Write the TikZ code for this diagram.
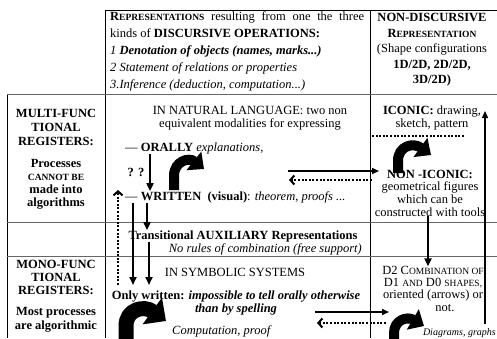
\documentclass[tikz,border=0pt]{standalone}
\usepackage{fontspec}
\setmainfont{Liberation Serif}
\usetikzlibrary{arrows.meta}
\newcommand{\smc}[1]{{\fontsize{9.5}{10}\selectfont #1}}
\begin{document}
\begin{tikzpicture}[x=1pt,y=-1pt,
  every node/.style={font=\fontsize{12.5}{13}\selectfont,inner sep=0pt},
  grid/.style={line width=0.7pt},
  hgrid/.style={line width=1pt,black!60},
  dn/.style={line width=2.2pt,-{Triangle[length=8pt,width=7pt]}},
  rt/.style={line width=1.6pt,-{Triangle[length=7pt,width=6pt]}},
  dotarr/.style={line width=2.2pt,dash pattern=on 2pt off 1.6pt,-{Straight Barb[length=4pt,width=9pt,line width=2pt]}},
  uturn/.style={line width=10pt,-{Triangle[length=13pt,width=23pt]}}]
\useasboundingbox (0,0) rectangle (497,338);
% table
\draw[grid] (105,10) -- (497,10);
\draw[grid] (105,10) -- (105,338);
\draw[grid] (370,10) -- (370,338);
\draw[grid] (7,94) -- (7,338);
\draw[hgrid] (7,94) -- (497,94);
\draw[hgrid] (7,222) -- (497,222);
\draw[hgrid] (7,256) -- (497,256);
% header row
\node[anchor=north west,align=left,font=\fontsize{12.5}{17.2}\selectfont] (repr) at (110,11)
 {\makebox[254pt][s]{\textbf{R\smc{EPRESENTATIONS}} resulting from one the three}\\
  kinds of \textbf{DISCURSIVE OPERATIONS:}\\
  \textit{1 \textbf{Denotation of objects (names, marks...)}}\\
  \textit{2 Statement of relations or properties}\\
  \textit{3.Inference (deduction, computation...)}};
\node[align=center,font=\fontsize{12.5}{15.5}\selectfont] (nondisc) at (432,50)
 {\textbf{NON-DISCURSIVE}\\ \textbf{R\smc{EPRESENTATION}}\\ (Shape configurations\\
  \textbf{1D/2D, 2D/2D,}\\ \textbf{3D/2D)}};
% left column
\node[align=center,font=\bfseries\fontsize{12.5}{14}\selectfont] (multi) at (56,127)
 {MULTI-FUNC\\TIONAL\\REGISTERS:};
\node[align=center,font=\bfseries\fontsize{12.5}{13}\selectfont] (proc) at (56,184)
 {Processes\\ \smc{CANNOT BE}\\ made into\\ algorithms};
\node[align=center,font=\bfseries\fontsize{12.5}{13}\selectfont] (mono) at (56,277)
 {MONO-FUNC\\TIONAL\\REGISTERS:};
\node[align=center,font=\bfseries\fontsize{12.5}{13.5}\selectfont] (mostp) at (56,320)
 {Most processes\\are algorithmic};
% natural language
\node[align=center] (natlang) at (250,118) {IN NATURAL LANGUAGE: two non\\ equivalent modalities for expressing};
\node[anchor=west] (orally) at (125,148) {--- \textbf{ORALLY} \textit{explanations,}};
\node (qq) at (136,172) {\textbf{? ?}};
\node[anchor=west] (written) at (125,197) {--- \textbf{WRITTEN} \ \textbf{(visual)}: \textit{theorem, proofs ...}};
\node (transit) at (243,236) {\textbf{Transitional AUXILIARY Representations}};
\node[anchor=east] (norules) at (362,249) {\textit{No rules of combination (free support)}};
% symbolic systems
\node (symbolic) at (235,272) {IN SYMBOLIC SYSTEMS};
\node[align=center] (onlywr) at (236,303)
 {\textbf{Only written: \textit{impossible to tell orally otherwise}}\\ \textbf{\textit{than by spelling}}};
\node (comput) at (222,331) {\textit{Computation, proof}};
% non discursive column
\node[align=center] (iconic) at (432,118) {\textbf{ICONIC:} drawing,\\ sketch, pattern};
\node[align=center,font=\fontsize{12.5}{12.7}\selectfont] (noniconic) at (430,193)
 {\textbf{NON -ICONIC:}\\ geometrical figures\\ which can be\\ constructed with tools};
\node[align=center,font=\fontsize{12.5}{12}\selectfont] (dcomb) at (433,284)
 {D2 C\smc{OMBINATION OF}\\ D1 \smc{AND} D0 \smc{SHAPES,}\\ oriented (arrows) or};
\node (notw) at (445,308) {not.};
\node[anchor=east,font=\itshape\fontsize{10}{11}\selectfont] (diagr) at (496,333) {Diagrams, graphs};
% arrow ends
\coordinate (xa) at (150,0);
\coordinate (xb) at (133,0);
\coordinate (xc) at (147,0);
\coordinate (xd) at (149,0);
\coordinate (dotB) at (118,285);
\coordinate (dotT) at (118,190);
\coordinate (symL) at (0,285);
\coordinate (hS) at (288,171);
\coordinate (hE) at (379,171);
\coordinate (hdS) at (372,180);
\coordinate (hdE) at (289,180);
\coordinate (xr) at (428,0);
\coordinate (upB) at (485,324);
\coordinate (upT) at (485,111);
\coordinate (bS) at (315,312);
\coordinate (bE) at (389,312);
\coordinate (bdS) at (386,323);
\coordinate (bdE) at (317,323);
% arrows
\draw[dn] (orally.south -| xa) -- (written.north -| xa);
\draw[dn,line width=2.8pt] (written.south -| xb) -- (symL -| xb);
\draw[dn,line width=1.8pt] (written.south -| xc) -- (transit.north -| xc);
\draw[dn] (transit.south -| xd) -- (symL -| xd);
\draw[dotarr] (dotB) -- (dotT);
\draw[rt] (hS) -- (hE);
\draw[dotarr] (hdS) -- (hdE);
\draw[line width=2pt,dash pattern=on 2pt off 1.6pt] (372,136) -- (465,136);
\draw[dn,line width=2.8pt] (noniconic.south -| xr) -- (dcomb.north -| xr);
\draw[rt,line width=1.4pt] (upB) -- (upT);
\draw[rt] (bS) -- (bE);
\draw[dotarr] (bdS) -- (bdE);
% bent arrows
\draw[uturn] (174,190) -- (174,176) .. controls (174,161) and (189,157) .. (204,169);
\draw[uturn] (398,173) -- (398,161) .. controls (398,146) and (413,142) .. (431,155);
\draw[uturn,line width=15pt,-{Triangle[length=17pt,width=32pt]}] (126,342) -- (126,326) .. controls (126,309) and (144,305) .. (166,321);
\draw[uturn] (394,342) -- (394,333) .. controls (394,320) and (407,316) .. (424,326);
\end{tikzpicture}
\end{document}
